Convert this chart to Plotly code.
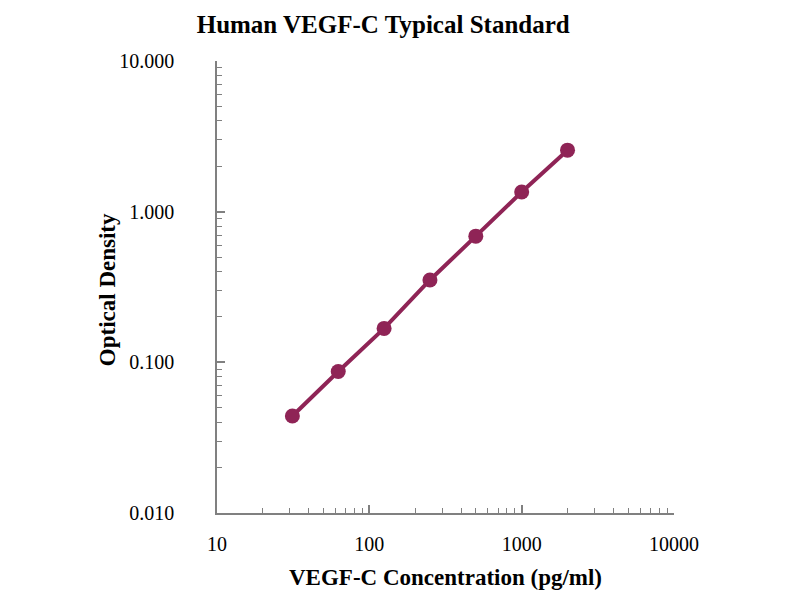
import plotly.graph_objects as go

# standard curve data
concentration = [31.25, 62.5, 125, 250, 500, 1000, 2000]
optical_density = [0.044, 0.087, 0.168, 0.352, 0.688, 1.35, 2.56]

x_ticks = [10, 100, 1000, 10000]
x_tick_labels = ["10", "100", "1000", "10000"]
y_ticks = [0.01, 0.1, 1, 10]
y_tick_labels = ["0.010", "0.100", "1.000", "10.000"]

LINE_COLOR = "#8F2456"
AXIS_COLOR = "#808080"
FONT = "Liberation Serif"


def _minor_positions(decades):
    # 2..9 within each decade, for the small tick marks on the log axes
    return [d * k for d in decades for k in range(2, 10)]


fig = go.Figure()
fig.add_trace(
    go.Scatter(
        x=concentration,
        y=optical_density,
        mode="lines+markers",
        line=dict(color=LINE_COLOR, width=4),
        marker=dict(color=LINE_COLOR, size=15),
        showlegend=False,
    )
)

axis_common = dict(
    type="log",
    automargin=False,
    showgrid=False,
    zeroline=False,
    showline=True,
    linecolor=AXIS_COLOR,
    linewidth=1.5,
    ticks="inside",
    ticklen=8,
    tickcolor=AXIS_COLOR,
    tickwidth=1.5,
    tickfont=dict(family=FONT, size=20, color="black"),
)

title_font = dict(family=FONT, size=23, color="black")

fig.update_layout(
    width=800,
    height=600,
    autosize=False,
    paper_bgcolor="white",
    plot_bgcolor="white",
    # page body adds ~8px, so these are a little smaller than the picture's offsets
    margin=dict(l=209, r=134, t=53, b=95),
    title=dict(
        text="<b>Human VEGF-C Typical Standard</b>",
        x=0.469,
        xanchor="center",
        y=0.988,
        yanchor="top",
        font=dict(family=FONT, size=25, color="black"),
    ),
    xaxis=dict(
        axis_common,
        range=[1, 4],
        tickvals=x_ticks,
        ticktext=x_tick_labels,
        ticklabelstandoff=12,
        minor=dict(tickvals=_minor_positions(x_ticks[:-1]), ticks="inside", ticklen=5,
                   tickcolor=AXIS_COLOR, tickwidth=1.2, showgrid=False),
    ),
    yaxis=dict(
        axis_common,
        range=[-2, 1],
        tickvals=y_ticks,
        ticktext=y_tick_labels,
        ticklabelstandoff=37,
        minor=dict(tickvals=_minor_positions(y_ticks[:-1]), ticks="inside", ticklen=5,
                   tickcolor=AXIS_COLOR, tickwidth=1.2, showgrid=False),
    ),
    annotations=[
        dict(
            text="<b>VEGF-C Concentration (pg/ml)</b>",
            xref="paper", yref="paper",
            x=0.5, y=-0.1416,
            xanchor="center", yanchor="middle",
            showarrow=False,
            font=title_font,
        ),
        dict(
            text="<b>Optical Density</b>",
            xref="paper", yref="paper",
            x=-0.2407, y=0.493,
            xanchor="center", yanchor="middle",
            textangle=-90,
            showarrow=False,
            font=title_font,
        ),
    ],
)

fig.write_html("out.html")
